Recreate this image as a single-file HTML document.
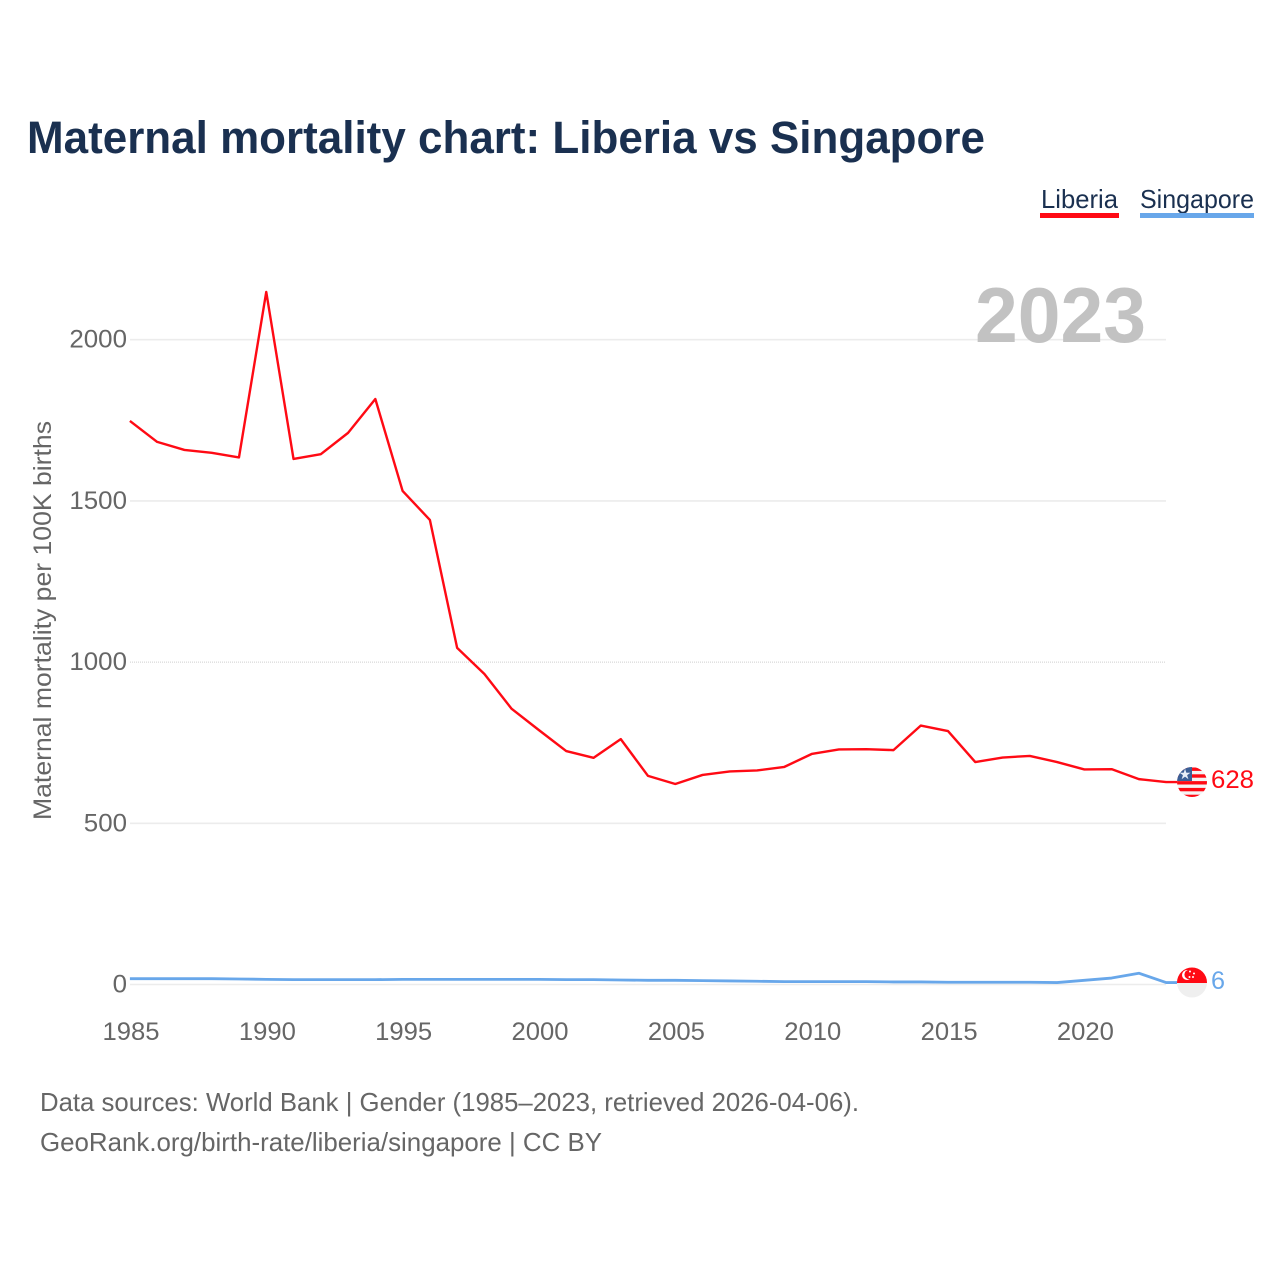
<!DOCTYPE html>
<html lang="en">
<head>
<meta charset="utf-8">
<title>Maternal mortality chart: Liberia vs Singapore</title>
<style>
  html, body { margin: 0; padding: 0; background: #fff; }
  svg { display: block; font-family: "Liberation Sans", sans-serif; }
</style>
</head>
<body>
<svg id="chart" width="1280" height="1280" viewBox="0 0 1280 1280" xmlns="http://www.w3.org/2000/svg">
  <defs>
    <clipPath id="clip-liberia"><circle cx="1192" cy="782" r="15"></circle></clipPath>
    <clipPath id="clip-singapore"><circle cx="1192" cy="982.5" r="15"></circle></clipPath>
  </defs>
  <rect x="0" y="0" width="1280" height="1280" fill="#ffffff"></rect>
  <text x="27" y="153" font-size="45" font-weight="700" fill="#1a3050" textLength="958" lengthAdjust="spacingAndGlyphs">Maternal mortality chart: Liberia vs Singapore</text>

  <g>
    <g>
      <text x="1041" y="208" font-size="26" fill="#1a3050" textLength="77" lengthAdjust="spacingAndGlyphs">Liberia</text>
      <rect x="1040" y="213" width="79" height="5" fill="#ff0a14"></rect>
    </g>
    <g>
      <text x="1140" y="208" font-size="26" fill="#1a3050" textLength="114" lengthAdjust="spacingAndGlyphs">Singapore</text>
      <rect x="1140" y="213" width="114" height="5" fill="#68a7ea"></rect>
    </g>
  </g>

  <g id="grid"></g>
  <text x="975" y="342" font-size="78" font-weight="700" fill="#c2c2c2" textLength="171" lengthAdjust="spacingAndGlyphs">2023</text>
  <g id="y-axis"></g>
  <g id="x-axis"></g>
  <text transform="translate(51,820) rotate(-90)" x="0" y="0" font-size="25" fill="#666666" textLength="399" lengthAdjust="spacingAndGlyphs">Maternal mortality per 100K births</text>

  <path id="line-liberia" fill="none" stroke="#ff0a14" stroke-width="2.4" stroke-linejoin="round"></path>
  <path id="line-singapore" fill="none" stroke="#68a7ea" stroke-width="2.8" stroke-linejoin="round"></path>

  <g clip-path="url(#clip-liberia)">
    <rect x="1177" y="767" width="30" height="30" fill="#f4f4f4"></rect>
    <g id="liberia-stripes"></g>
    <rect x="1177" y="767" width="15" height="14" fill="#3b5f96"></rect>
    <text x="1185" y="779" font-size="14" text-anchor="middle" fill="#e8eef8">★</text>
  </g>
  <g clip-path="url(#clip-singapore)">
    <rect x="1177" y="967" width="30" height="31" fill="#efefef"></rect>
    <rect x="1177" y="967" width="30" height="16" fill="#ff0a14"></rect>
    <circle cx="1187" cy="975" r="5" fill="#ffffff"></circle>
    <circle cx="1189" cy="974.5" r="4.6" fill="#ff0a14"></circle>
    <circle cx="1190" cy="971.5" r="1" fill="#ffffff"></circle>
    <circle cx="1194" cy="973.5" r="1" fill="#ffffff"></circle>
    <circle cx="1193" cy="977" r="1" fill="#ffffff"></circle>
    <circle cx="1189.5" cy="977" r="1" fill="#ffffff"></circle>
  </g>

  <text id="value-liberia" x="1211" y="788" font-size="25" fill="#ff0a14" textLength="43" lengthAdjust="spacingAndGlyphs"></text>
  <text id="value-singapore" x="1211" y="989" font-size="25" fill="#68a7ea" textLength="14" lengthAdjust="spacingAndGlyphs"></text>

  <text x="40" y="1111" font-size="26" fill="#666666" textLength="819" lengthAdjust="spacingAndGlyphs">Data sources: World Bank | Gender (1985–2023, retrieved 2026-04-06).</text>
  <text x="40" y="1151" font-size="26" fill="#666666" textLength="562" lengthAdjust="spacingAndGlyphs">GeoRank.org/birth-rate/liberia/singapore | CC BY</text>
</svg>
<script>
const years = [1985,1986,1987,1988,1989,1990,1991,1992,1993,1994,1995,1996,1997,1998,1999,2000,2001,2002,2003,2004,2005,2006,2007,2008,2009,2010,2011,2012,2013,2014,2015,2016,2017,2018,2019,2020,2021,2022,2023];
const liberia = [1748,1683,1658,1649,1635,2148,1630,1645,1711,1816,1531,1441,1044,963,855,789,724,703,761,647,622,650,661,664,675,715,729,730,727,803,786,690,704,709,690,667,668,637,628];
const singapore = [18,18,18,18,17,16,15,15,15,15,16,16,16,16,16,16,15,15,14,13,13,12,11,10,9,9,9,9,8,8,7,7,7,7,6,13,20,35,6];
const yTicks = [0,500,1000,1500,2000];
const xTicks = [1985,1990,1995,2000,2005,2010,2015,2020];

const SVG_NS = 'http://www.w3.org/2000/svg';
const xScale = function (year) { return 129.9 + (year - 1985) * 27.27; };
const yScale = function (value) { return 984.5 - value * 0.3224; };

const gridGroup = document.getElementById('grid');
const yAxisGroup = document.getElementById('y-axis');
const xAxisGroup = document.getElementById('x-axis');

yTicks.forEach(function (tick) {
  const line = document.createElementNS(SVG_NS, 'line');
  
  
  line.setAttribute('x1', 130);
  line.setAttribute('x2', 1166);
  line.setAttribute('y1', yScale(tick));
  line.setAttribute('y2', yScale(tick));
  line.setAttribute('stroke', tick === 1000 ? '#cfcfcf' : '#ececec');
  line.setAttribute('stroke-width', tick === 1000 ? 1 : 1.6);
  if (tick === 1000) {
    line.setAttribute('stroke-dasharray', '1 1');
  }
  gridGroup.appendChild(line);

  const label = document.createElementNS(SVG_NS, 'text');
  
  
  const width = String(tick).length * 14.4;
  label.setAttribute('x', 127 - width);
  label.setAttribute('y', yScale(tick) + 8);
  label.setAttribute('font-size', 25);
  label.setAttribute('fill', '#666666');
  label.setAttribute('textLength', width);
  label.setAttribute('lengthAdjust', 'spacingAndGlyphs');
  label.textContent = tick;
  yAxisGroup.appendChild(label);
});

xTicks.forEach(function (tick) {
  const label = document.createElementNS(SVG_NS, 'text');
  
  
  label.setAttribute('x', xScale(tick) - 27.4);
  label.setAttribute('y', 1040);
  label.setAttribute('font-size', 25);
  label.setAttribute('fill', '#666666');
  label.setAttribute('textLength', 57);
  label.setAttribute('lengthAdjust', 'spacingAndGlyphs');
  label.textContent = tick;
  xAxisGroup.appendChild(label);
});

function linePath(values) {
  return values.map(function (value, i) {
    return (i === 0 ? 'M' : 'L') + xScale(years[i]).toFixed(2) + ' ' + yScale(value).toFixed(2);
  }).join(' ');
}

function connectorEnd(values) {
  return ' L1177 ' + yScale(values[values.length - 1]).toFixed(2);
}

document.getElementById('line-liberia').setAttribute('d', linePath(liberia) + connectorEnd(liberia));
document.getElementById('line-singapore').setAttribute('d', linePath(singapore) + connectorEnd(singapore));
document.getElementById('value-liberia').textContent = liberia[liberia.length - 1];
document.getElementById('value-singapore').textContent = singapore[singapore.length - 1];

const stripeGroup = document.getElementById('liberia-stripes');
for (let i = 0; i < 9; i += 2) {
  const stripe = document.createElementNS(SVG_NS, 'rect');
  
  
  stripe.setAttribute('x', 1177);
  stripe.setAttribute('y', 767.5 + i * 3.4);
  stripe.setAttribute('width', 30);
  stripe.setAttribute('height', 3.4);
  stripe.setAttribute('fill', '#ff0a14');
  stripeGroup.appendChild(stripe);
}
</script>
</body>
</html>
